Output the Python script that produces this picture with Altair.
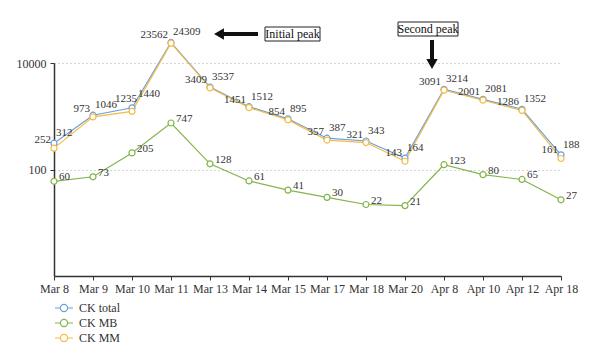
import altair as alt
import pandas as pd

dates = ["Mar 8", "Mar 9", "Mar 10", "Mar 11", "Mar 13", "Mar 14", "Mar 15",
         "Mar 17", "Mar 18", "Mar 20", "Apr 8", "Apr 10", "Apr 12", "Apr 18"]
ck_total = [312, 1046, 1440, 24309, 3537, 1512, 895, 387, 343, 164, 3214, 2081, 1352, 188]
ck_mb = [60, 73, 205, 747, 128, 61, 41, 30, 22, 21, 123, 80, 65, 27]
ck_mm = [252, 973, 1235, 23562, 3409, 1451, 854, 357, 321, 143, 3091, 2001, 1286, 161]
series_names = ["CK total", "CK MB", "CK MM"]
series_colors = ["#6a9fd8", "#82b54b", "#f5bb45"]

rows = []
for name, vals in zip(series_names, [ck_total, ck_mb, ck_mm]):
    for d, v in zip(dates, vals):
        rows.append({"date": d, "series": name, "value": v})
df = pd.DataFrame(rows)

FONT = "'Liberation Serif', 'DejaVu Serif', serif"
TXT = "#333333"
FS = 11

x = alt.X("date:N", sort=dates, scale=alt.Scale(type="point", padding=0),
          axis=alt.Axis(title=None, labelAngle=0, tickSize=4, labelPadding=3,
                        grid=False))
y = alt.Y("value:Q",
          scale=alt.Scale(type="log", domain=[1, 10000], nice=False),
          axis=alt.Axis(title=None, values=[100, 10000], format="d", grid=True,
                        gridDash=[1, 3], gridColor="#aaaaaa", gridWidth=1,
                        tickSize=4, labelPadding=4))
color = alt.Color("series:N",
                  scale=alt.Scale(domain=series_names, range=series_colors),
                  legend=alt.Legend(title=None, orient="none", legendX=3, legendY=238,
                                    symbolType="M-1.5,0H-0.6M0.6,0H1.5M0.6,0A0.6,0.6 0 1,1 -0.6,0A0.6,0.6 0 1,1 0.6,0",
                                    symbolSize=144, symbolStrokeWidth=1.2,
                                    symbolFillColor="white", labelFont=FONT,
                                    labelFontSize=12, labelColor=TXT,
                                    labelOffset=8, rowPadding=2, padding=0))

base = alt.Chart(df).encode(x=x, y=y)

lines = base.mark_line(strokeWidth=1.2, clip=False).encode(color=color)
points = base.mark_point(filled=False, fill="white", fillOpacity=1, size=36,
                         strokeWidth=1.2, opacity=1, clip=False).encode(color=color)


def labels(series, dates_filter, exclude, **kw):
    c = base.transform_filter(alt.datum.series == series)
    if dates_filter is not None:
        expr = alt.FieldOneOfPredicate(field="date", oneOf=dates_filter)
        c = c.transform_filter(alt.LogicalNotPredicate(**{"not": expr}) if exclude else expr)
    return c.mark_text(baseline="middle", font=FONT, fontSize=FS, color=TXT,
                       clip=False, **kw).encode(text="value:Q")


lab_total = labels("CK total", ["Mar 10"], True, align="left", dx=2, dy=-10)
lab_total_b = labels("CK total", ["Mar 10"], False, align="left", dx=6, dy=-14)
lab_mm = labels("CK MM", ["Mar 10"], True, align="right", dx=-3, dy=-8)
lab_mm_b = labels("CK MM", ["Mar 10"], False, align="right", dx=5, dy=-12)
lab_mb = labels("CK MB", None, False, align="left", dx=5, dy=-4)

# annotations (pixel positions within the plot area)
ann = alt.Chart(pd.DataFrame({"a": [0]}))

box1 = ann.mark_rect(fill="white", stroke="#222", strokeWidth=1, clip=False).encode(
    x=alt.value(211), x2=alt.value(266), y=alt.value(-36), y2=alt.value(-22))
txt1 = ann.mark_text(font=FONT, fontSize=12, color="#111", align="center",
                     baseline="middle", clip=False).encode(
    x=alt.value(238.5), y=alt.value(-29), text=alt.value("Initial peak"))
shaft1 = ann.mark_rule(strokeWidth=4, color="#111", clip=False).encode(
    x=alt.value(166), x2=alt.value(204), y=alt.value(-29))
head1 = ann.mark_point(shape="triangle-left", filled=True, color="#111", size=130,
                       opacity=1, clip=False).encode(x=alt.value(165), y=alt.value(-29))

box2 = ann.mark_rect(fill="white", stroke="#222", strokeWidth=1, clip=False).encode(
    x=alt.value(344), x2=alt.value(404), y=alt.value(-41), y2=alt.value(-27))
txt2 = ann.mark_text(font=FONT, fontSize=12, color="#111", align="center",
                     baseline="middle", clip=False).encode(
    x=alt.value(374), y=alt.value(-34), text=alt.value("Second peak"))
shaft2 = ann.mark_rule(strokeWidth=4, color="#111", clip=False).encode(
    x=alt.value(378), y=alt.value(-23), y2=alt.value(1))
head2 = ann.mark_point(shape="triangle-down", filled=True, color="#111", size=130,
                       opacity=1, clip=False).encode(x=alt.value(378), y=alt.value(1))

chart = alt.layer(
    lines, points, lab_total, lab_total_b, lab_mm, lab_mm_b, lab_mb,
    box1, txt1, shaft1, head1, box2, txt2, shaft2, head2
).properties(
    width=507, height=213,
    autosize=alt.AutoSizeParams(type="none"),
    padding={"left": 46, "top": 55, "right": 31, "bottom": 77},
).configure_view(stroke=None).configure_axis(
    domainColor="#333", domainWidth=1.5, tickColor="#333", labelColor=TXT,
    labelFont=FONT, labelFontSize=12
)

chart.save("out.html", embed_options={"renderer": "svg", "actions": False})
